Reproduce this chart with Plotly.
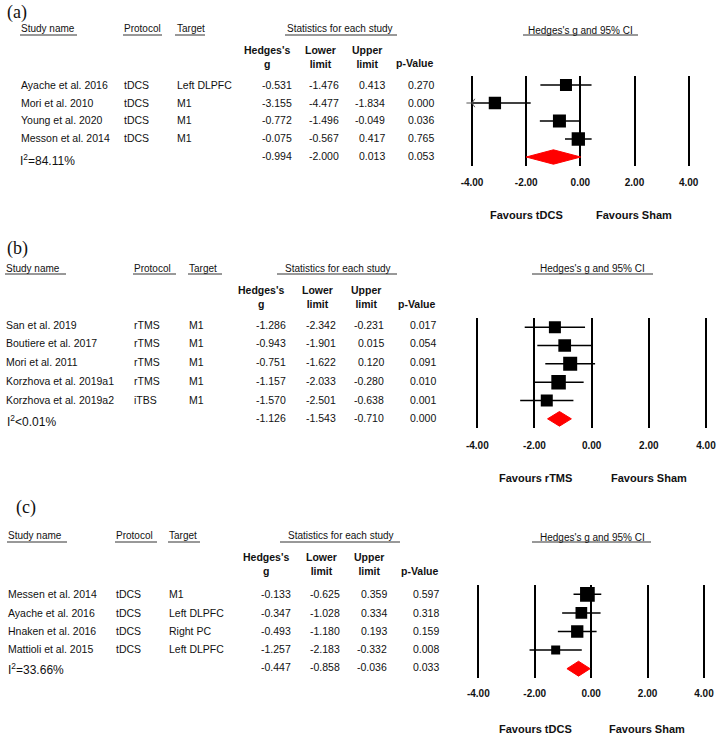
import plotly.graph_objects as go

W, H = 727, 743

# ---------------- DATA ----------------
studies_a = ["Ayache et al. 2016", "Mori et al. 2010", "Young et al. 2020", "Messon et al. 2014"]
protocol_a = ["tDCS", "tDCS", "tDCS", "tDCS"]
target_a = ["Left DLPFC", "M1", "M1", "M1"]
g_a = [-0.531, -3.155, -0.772, -0.075]
lo_a = [-1.476, -4.477, -1.496, -0.567]
hi_a = [0.413, -1.834, -0.049, 0.417]
p_a = ["0.270", "0.000", "0.036", "0.765"]
sum_a = {"g": -0.994, "lo": -2.000, "hi": 0.013, "p": "0.053"}
i2_a = "I<sup>2</sup>=84.11%"
weight_a = [12, 12.3, 13, 13.3]

studies_b = ["San et al. 2019", "Boutiere et al. 2017", "Mori et al. 2011", "Korzhova et al. 2019a1", "Korzhova et al. 2019a2"]
protocol_b = ["rTMS", "rTMS", "rTMS", "rTMS", "iTBS"]
target_b = ["M1", "M1", "M1", "M1", "M1"]
g_b = [-1.286, -0.943, -0.751, -1.157, -1.570]
lo_b = [-2.342, -1.901, -1.622, -2.033, -2.501]
hi_b = [-0.231, 0.015, 0.120, -0.280, -0.638]
p_b = ["0.017", "0.054", "0.091", "0.010", "0.001"]
sum_b = {"g": -1.126, "lo": -1.543, "hi": -0.710, "p": "0.000"}
i2_b = "I<sup>2</sup><0.01%"
weight_b = [12, 12.7, 14, 14.5, 12]

studies_c = ["Messen et al. 2014", "Ayache et al. 2016", "Hnaken et al. 2016", "Mattioli et al. 2015"]
protocol_c = ["tDCS", "tDCS", "tDCS", "tDCS"]
target_c = ["M1", "Left DLPFC", "Right PC", "Left DLPFC"]
g_c = [-0.133, -0.347, -0.493, -1.257]
lo_c = [-0.625, -1.028, -1.180, -2.183]
hi_c = [0.359, 0.334, 0.193, -0.332]
p_c = ["0.597", "0.318", "0.159", "0.008"]
sum_c = {"g": -0.447, "lo": -0.858, "hi": -0.036, "p": "0.033"}
i2_c = "I<sup>2</sup>=33.66%"
weight_c = [14.7, 11.7, 12.3, 9]

tick_vals = [-4, -2, 0, 2, 4]
tick_text = ["-4.00", "-2.00", "0.00", "2.00", "4.00"]
panel_labels = ["(a)", "(b)", "(c)"]
favours = [("Favours tDCS", "Favours Sham"), ("Favours rTMS", "Favours Sham"), ("Favours tDCS", "Favours Sham")]
X_MIN, X_MAX = -4.4, 4.4
CLIP = -4

# ---------------- LAYOUT (pixel positions) ----------------
panels = [
    dict(studies=studies_a, prot=protocol_a, targ=target_a, g=g_a, lo=lo_a, hi=hi_a, p=p_a, s=sum_a, i2=i2_a, w=weight_a,
         label_xy=(6, 12), head_y=29, ul_y=35, hdr_y=57, pv_y=63,
         rows_y=[85, 103, 120, 138, 156], i2_xy=(19, 160),
         name_x=20, prot_x=123, targ_x=176, col_r=[293, 340, 386, 435],
         ul=[(20, 77), (123, 162), (175, 205), (285, 397)], stat_c=340,
         fx=(461.2, 699.5), fy=(76, 166), ftitle=(580, 30), ful=(523, 638, 35),
         tick_y=181, fav=(526, 634, 215)),
    dict(studies=studies_b, prot=protocol_b, targ=target_b, g=g_b, lo=lo_b, hi=hi_b, p=p_b, s=sum_b, i2=i2_b, w=weight_b,
         label_xy=(6, 248), head_y=268, ul_y=274, hdr_y=297, pv_y=304,
         rows_y=[325, 343, 362, 381, 400, 418], i2_xy=(6, 421),
         name_x=5, prot_x=133, targ_x=188, col_r=[287, 337, 385, 437],
         ul=[(5, 66), (133, 176), (188, 222), (277, 397)], stat_c=338,
         fx=(465.9, 717.4), fy=(318, 428), ftitle=(592, 268), ful=(532, 653, 274),
         tick_y=444, fav=(535, 649, 478)),
    dict(studies=studies_c, prot=protocol_c, targ=target_c, g=g_c, lo=lo_c, hi=hi_c, p=p_c, s=sum_c, i2=i2_c, w=weight_c,
         label_xy=(15, 507), head_y=535, ul_y=542, hdr_y=564, pv_y=571,
         rows_y=[594, 613, 631, 649, 667], i2_xy=(7, 669),
         name_x=7, prot_x=115, targ_x=168, col_r=[292, 341, 388, 440],
         ul=[(7, 67), (115, 157), (168, 200), (280, 400)], stat_c=341,
         fx=(467.0, 715.3), fy=(585, 678), ftitle=(592, 537), ful=(532, 651, 542),
         tick_y=692, fav=(535, 647, 729)),
]

SANS = "Liberation Sans, Arial"
SERIF = "Liberation Serif, Times New Roman"
BASE = 10.5


def px(x):
    return x / W


def py(y):
    return 1 - y / H


fig = go.Figure()
annotations = []
shapes = []


def txt(x, y, text, size=BASE, family=SANS, xanchor="left", bold=False, align="left", yanchor="middle"):
    annotations.append(dict(
        x=px(x), y=py(y), xref="paper", yref="paper", text=(f"<b>{text}</b>" if bold else text),
        showarrow=False, xanchor=xanchor, yanchor=yanchor, align=align, borderpad=0,
        font=dict(family=family, size=size, color="#111"),
    ))


for k, P in enumerate(panels):
    ax = "" if k == 0 else str(k + 1)
    xa, ya = "x" + ax, "y" + ax
    n = len(P["studies"])

    # panel label
    txt(P["label_xy"][0], P["label_xy"][1], panel_labels[k], size=18, family=SERIF)
    # headers
    txt(P["name_x"], P["head_y"], "Study name", size=10)
    txt(P["prot_x"], P["head_y"], "Protocol", size=10)
    txt(P["targ_x"], P["head_y"], "Target", size=10)
    txt(P["stat_c"], P["head_y"], "Statistics for each study", size=10, xanchor="center")
    for (x0, x1) in P["ul"]:
        shapes.append(dict(type="line", xref="paper", yref="paper", x0=px(x0), x1=px(x1),
                           y0=py(P["ul_y"]), y1=py(P["ul_y"]), line=dict(color="#333", width=1)))
    cr = P["col_r"]
    txt(cr[0] - 2, P["hdr_y"], "Hedges's<br>g", size=10.5, xanchor="right", bold=True, align="center")
    txt(cr[1] - 3, P["hdr_y"], "Lower<br>limit", size=10.5, xanchor="right", bold=True, align="center")
    txt(cr[2] - 3, P["hdr_y"], "Upper<br>limit", size=10.5, xanchor="right", bold=True, align="center")
    txt(cr[3], P["pv_y"], "p-Value", size=10.5, xanchor="right", bold=True)

    # rows
    for i in range(n):
        y = P["rows_y"][i]
        txt(P["name_x"], y, P["studies"][i])
        txt(P["prot_x"], y, P["prot"][i])
        txt(P["targ_x"], y, P["targ"][i])
        txt(cr[0], y, f"{P['g'][i]:.3f}", xanchor="right")
        txt(cr[1], y, f"{P['lo'][i]:.3f}", xanchor="right")
        txt(cr[2], y, f"{P['hi'][i]:.3f}", xanchor="right")
        txt(cr[3], y, P["p"][i], xanchor="right")
    ys = P["rows_y"][n]
    s = P["s"]
    txt(cr[0], ys, f"{s['g']:.3f}", xanchor="right")
    txt(cr[1], ys, f"{s['lo']:.3f}", xanchor="right")
    txt(cr[2], ys, f"{s['hi']:.3f}", xanchor="right")
    txt(cr[3], ys, s["p"], xanchor="right")
    txt(P["i2_xy"][0], P["i2_xy"][1], P["i2"], size=12)

    # forest title
    txt(P["ftitle"][0], P["ftitle"][1], "Hedges's g and 95% CI", size=10, xanchor="center")
    fu = P["ful"]
    shapes.append(dict(type="line", xref="paper", yref="paper", x0=px(fu[0]), x1=px(fu[1]),
                       y0=py(fu[2]), y1=py(fu[2]), line=dict(color="#333", width=1)))
    # favours
    fv = P["fav"]
    txt(fv[0], fv[2], favours[k][0], size=11, xanchor="center", bold=True)
    txt(fv[1], fv[2], favours[k][1], size=11, xanchor="center", bold=True)

    # CI lines
    for i in range(n):
        lo = max(P["lo"][i], CLIP)
        fig.add_trace(go.Scatter(x=[lo, P["hi"][i]], y=[i, i], mode="lines",
                                 line=dict(color="black", width=1.5), xaxis=xa, yaxis=ya,
                                 showlegend=False, hoverinfo="skip"))
        if P["lo"][i] < CLIP:
            fig.add_trace(go.Scatter(x=[CLIP], y=[i], mode="markers",
                                     marker=dict(symbol="y-left", size=7, line=dict(color="#555", width=1)),
                                     xaxis=xa, yaxis=ya, showlegend=False, hoverinfo="skip"))
    # squares
    for i in range(n):
        fig.add_trace(go.Scatter(x=[P["g"][i]], y=[i], mode="markers",
                                 marker=dict(symbol="square", size=P["w"][i], color="black"),
                                 xaxis=xa, yaxis=ya, showlegend=False))
    # diamond
    h = 0.4
    fig.add_trace(go.Scatter(x=[s["lo"], s["g"], s["hi"], s["g"], s["lo"]],
                             y=[n, n - h, n, n + h, n], mode="lines", fill="toself",
                             fillcolor="#ff0000", line=dict(color="#ff0000", width=1),
                             xaxis=xa, yaxis=ya, showlegend=False))

    xkey = "xaxis" + ax
    ykey = "yaxis" + ax
    fig.update_layout(**{
        xkey: dict(domain=[px(P["fx"][0]), px(P["fx"][1])], range=[X_MIN, X_MAX], anchor=ya,
                   tickvals=tick_vals, ticktext=[f"<b>{t}</b>" for t in tick_text],
                   showgrid=True, gridcolor="black", gridwidth=2, zeroline=False, showline=False,
                   ticks="", ticklabelstandoff=P["tick_y"] - P["fy"][1] - 6,
                   tickfont=dict(family=SANS, size=10, color="#111"), fixedrange=True),
        ykey: dict(domain=[py(P["fy"][1]), py(P["fy"][0])], range=[n + 0.5, -0.5], anchor=xa,
                   showgrid=False, zeroline=False, showticklabels=False, showline=False, fixedrange=True),
    })

fig.update_layout(width=W, height=H, margin=dict(l=0, r=0, t=0, b=0),
                  paper_bgcolor="white", plot_bgcolor="white",
                  annotations=annotations, shapes=shapes, showlegend=False)

fig.write_html("out.html", config={"displayModeBar": False},
               post_script="document.body.style.margin='0px';document.body.style.overflow='hidden';")
